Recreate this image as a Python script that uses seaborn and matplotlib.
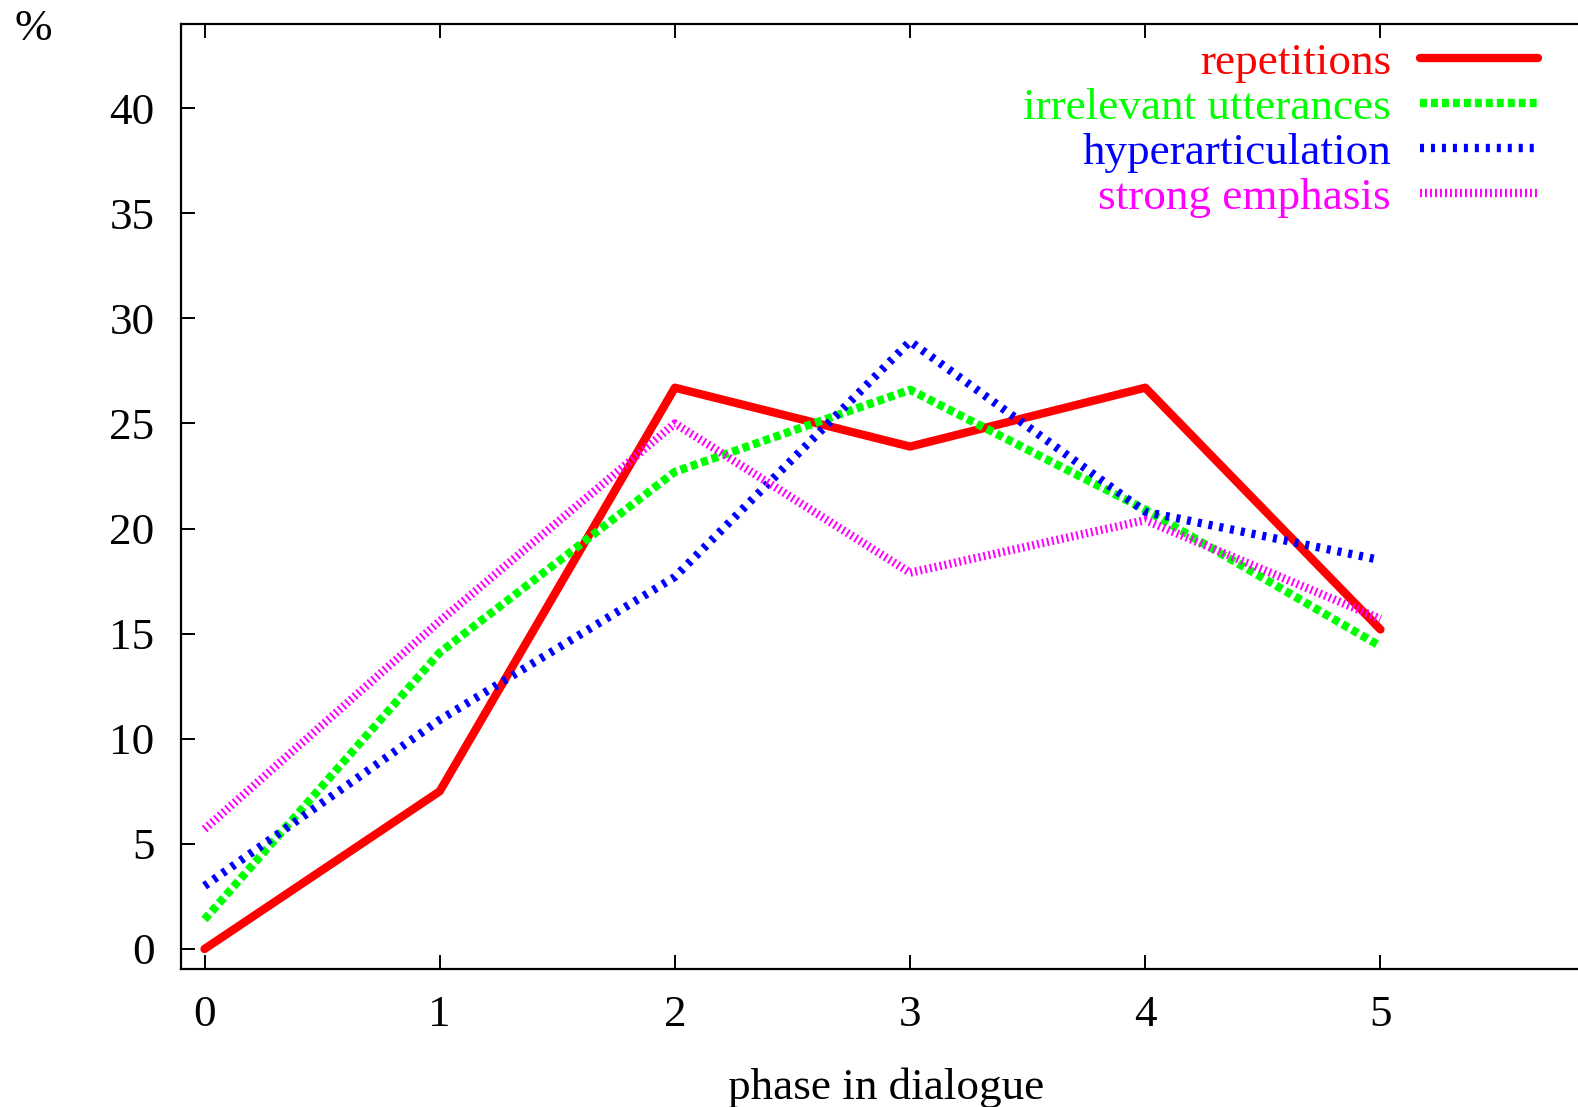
import matplotlib
matplotlib.use("Agg")
import matplotlib.pyplot as plt
import seaborn as sns
import pandas as pd

phases = [0, 1, 2, 3, 4, 5]
repetitions = [0.0, 7.5, 26.7, 23.9, 26.7, 15.2]
irrelevant = [1.4, 14.1, 22.7, 26.6, 20.9, 14.4]
hyper = [3.0, 10.9, 17.7, 28.9, 20.8, 18.5]
emphasis = [5.7, 15.6, 25.0, 17.9, 20.4, 15.7]

labels = ["repetitions", "irrelevant utterances", "hyperarticulation", "strong emphasis"]
colors = ["#ff0000", "#00ff00", "#0000ff", "#ff00ff"]
dashes = [None, (5.0, 2.9), (2.9, 5.0), (1.4, 2.2)]

sns.set_theme(style="ticks")
plt.rcParams["font.family"] = ["Liberation Serif", "DejaVu Serif"]
plt.rcParams["lines.scale_dashes"] = False
plt.rcParams["text.color"] = "black"
plt.rcParams["axes.labelcolor"] = "black"

fs = 32.5
fig = plt.figure(figsize=(15.78, 11.07), dpi=100)
ax = fig.add_axes([0.1147, 0.1247, 0.8853, 0.8536])

for vals, lab, col, dsh in zip([repetitions, irrelevant, hyper, emphasis], labels, colors, dashes):
    df = pd.DataFrame({"phase": phases, "pct": vals})
    kw = {} if dsh is None else {"dashes": dsh}
    sns.lineplot(data=df, x="phase", y="pct", color=col, lw=6.0, label=lab,
                 ax=ax, legend=False, **kw)

ax.set_xlim(-0.1, 5.84)
ax.set_ylim(-0.95, 44)
ax.set_xticks(phases)
ax.set_yticks(range(0, 45, 5))
ax.tick_params(direction="in", length=10, width=1.4, labelsize=fs, pad=19,
               top=True, colors="black")
for s in ["left", "bottom", "top"]:
    ax.spines[s].set_linewidth(1.6)
    ax.spines[s].set_color("black")
ax.spines["right"].set_visible(False)

ax.set_xlabel("phase in dialogue", fontsize=fs, color="black")
ax.xaxis.set_label_coords(0.505, -0.104)
ax.set_ylabel("")
fig.text(33 / 1578, 1 - 29 / 1107, "%", fontsize=fs, ha="center", va="center")

leg = ax.legend(loc="upper right", bbox_to_anchor=(1538 / 1578, 1 - 42 / 1107),
                bbox_transform=fig.transFigure, frameon=False, markerfirst=False,
                fontsize=fs, handlelength=2.61, handletextpad=0.65,
                labelspacing=0.10, borderpad=0, borderaxespad=0, labelcolor="linecolor")

fig.savefig("out.png", dpi=100)
